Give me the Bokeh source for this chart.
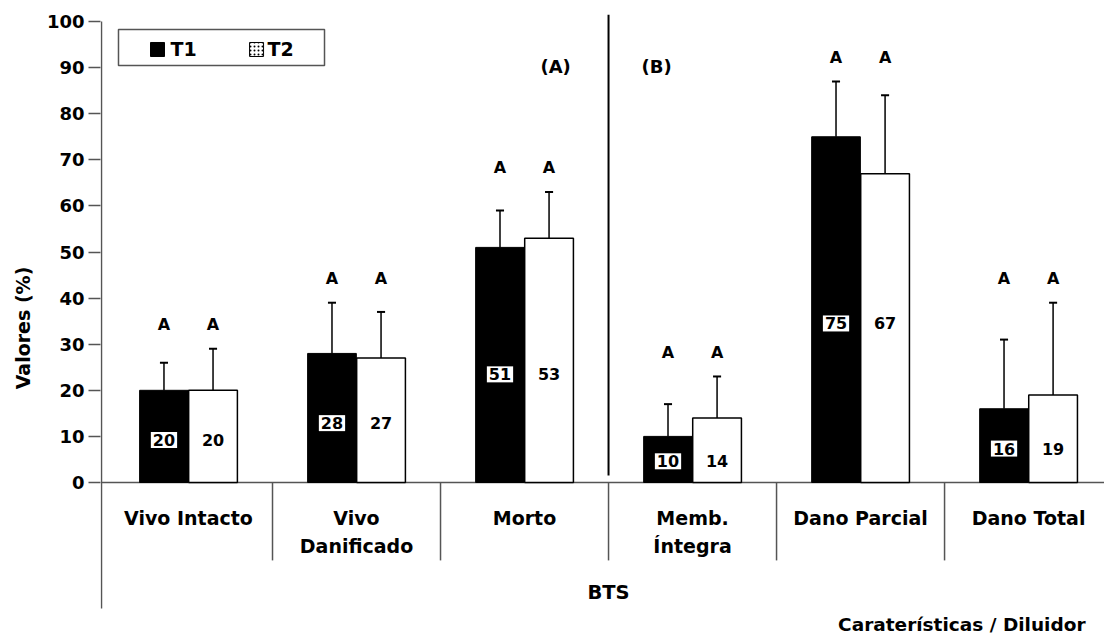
from bokeh.plotting import figure
from bokeh.models import Range1d, FixedTicker
from bokeh.core.properties import value
from bokeh.embed import file_html
from bokeh.resources import INLINE

# ---------------- data ----------------
categories = ["Vivo Intacto", "Vivo\nDanificado", "Morto", "Memb.\nÍntegra", "Dano Parcial", "Dano Total"]
series_names = ["T1", "T2"]
t1_values = [20, 28, 51, 10, 75, 16]
t2_values = [20, 27, 53, 14, 67, 19]
t1_err = [6, 11, 8, 7, 12, 15]
t2_err = [9, 10, 10, 9, 17, 20]
letters_t1 = ["A", "A", "A", "A", "A", "A"]
letters_t2 = ["A", "A", "A", "A", "A", "A"]
y_ticks = [0, 10, 20, 30, 40, 50, 60, 70, 80, 90, 100]
group_label = "BTS"
panel_labels = ["(A)", "(B)"]
y_title = "Valores (%)"
x_title = "Caraterísticas / Diluidor"

FONT = value("DejaVu Sans")
n = len(categories)

X0, X1 = -0.0238, 5.952
Y0, Y1 = -34.49, 101.52

# ---------------- figure ----------------
p = figure(width=1104, height=641, output_backend="svg", toolbar_location=None,
           x_range=Range1d(X0, X1), y_range=Range1d(Y0, Y1),
           min_border_left=100, min_border_top=14, min_border_bottom=0, min_border_right=0,
           title=None)
p.outline_line_color = None
p.xgrid.visible = False
p.ygrid.visible = False
p.xaxis.visible = False
p.background_fill_color = "white"
p.border_fill_color = "white"

ax = p.yaxis[0]
ax.ticker = FixedTicker(ticks=y_ticks)
ax.axis_line_color = None
ax.major_tick_line_color = "#555555"
ax.major_tick_line_width = 1.5
ax.major_tick_out = 12
ax.major_tick_in = 0
ax.minor_tick_line_color = None
ax.major_label_text_font = "DejaVu Sans"
ax.major_label_text_font_style = "bold"
ax.major_label_text_font_size = "18px"
ax.major_label_text_color = "black"
ax.major_label_standoff = 4
ax.axis_label = y_title
ax.axis_label_text_font = "DejaVu Sans"
ax.axis_label_text_font_style = "bold"
ax.axis_label_text_font_size = "19px"
ax.axis_label_text_color = "black"
ax.axis_label_standoff = 10

# axis lines (manual, so that they stop where the reference stops)
x_axis_left = -0.0179
p.segment(x0=[x_axis_left], y0=[-27.33], x1=[x_axis_left], y1=[100], line_color="#555555", line_width=1.5)
p.segment(x0=[x_axis_left], y0=[0], x1=[X1], y1=[0], line_color="#555555", line_width=1.5)
# category separators
seps = list(range(1, n))
p.segment(x0=seps, y0=[0] * len(seps), x1=seps, y1=[-16.9] * len(seps), line_color="#555555", line_width=1.5)
# panel divider
p.segment(x0=[3], y0=[1.5], x1=[3], y1=[Y1], line_color="black", line_width=2)

# ---------------- bars ----------------
bw = 0.29
off = 0.146
xs1 = [i + 0.5 - off for i in range(n)]
xs2 = [i + 0.5 + off for i in range(n)]
p.vbar(x=xs1, top=t1_values, bottom=0, width=bw, fill_color="black", line_color="black", line_width=1)
p.vbar(x=xs2, top=t2_values, bottom=0, width=bw, fill_color="white", line_color="black", line_width=1.5)

# error bars (upper only, with caps)
cap = 0.024
up1 = [v + e for v, e in zip(t1_values, t1_err)]
up2 = [v + e for v, e in zip(t2_values, t2_err)]
p.segment(x0=xs1, y0=t1_values, x1=xs1, y1=up1, line_color="black", line_width=1.5)
p.segment(x0=xs2, y0=t2_values, x1=xs2, y1=up2, line_color="black", line_width=1.5)
p.segment(x0=[x - cap for x in xs1], y0=up1, x1=[x + cap for x in xs1], y1=up1, line_color="black", line_width=2)
p.segment(x0=[x - cap for x in xs2], y0=up2, x1=[x + cap for x in xs2], y1=up2, line_color="black", line_width=2)

# significance letters
let_y = [max(a, b) + 5.3 for a, b in zip(up1, up2)]
p.text(x=xs1, y=let_y, text=letters_t1, text_font=FONT, text_font_style="bold", text_font_size="16px",
       text_align="center", text_baseline="middle", text_color="black")
p.text(x=xs2, y=let_y, text=letters_t2, text_font=FONT, text_font_style="bold", text_font_size="16px",
       text_align="center", text_baseline="middle", text_color="black")

# value labels
lab_y = [v * 0.46 for v in t1_values]
p.text(x=xs1, y=lab_y, text=[str(v) for v in t1_values], text_font=FONT, text_font_style="bold",
       text_font_size="16px", text_align="center", text_baseline="middle", text_color="black",
       background_fill_color="white", padding=2)
p.text(x=xs2, y=lab_y, text=[str(v) for v in t2_values], text_font=FONT, text_font_style="bold",
       text_font_size="16px", text_align="center", text_baseline="middle", text_color="black")

# ---------------- category labels ----------------
line1 = [c.split("\n")[0] for c in categories]
line2 = [c.split("\n")[1] if "\n" in c else "" for c in categories]
cx = [i + 0.5 for i in range(n)]
p.text(x=cx, y=[-7.6] * n, text=line1, text_font=FONT, text_font_style="bold", text_font_size="19px",
       text_align="center", text_baseline="middle", text_color="black")
p.text(x=cx, y=[-13.7] * n, text=line2, text_font=FONT, text_font_style="bold", text_font_size="19px",
       text_align="center", text_baseline="middle", text_color="black")
p.text(x=[3], y=[-23.9], text=[group_label], text_font=FONT, text_font_style="bold", text_font_size="19.5px",
       text_align="center", text_baseline="middle", text_color="black")
p.text(x=[5.839], y=[-30.8], text=[x_title], text_font=FONT, text_font_style="bold", text_font_size="18.5px",
       text_align="right", text_baseline="middle", text_color="black")

# panel labels
p.text(x=[2.685, 3.286], y=[90.2, 90.2], text=panel_labels, text_font=FONT, text_font_style="bold",
       text_font_size="18px", text_align="center", text_baseline="middle", text_color="black")

# ---------------- legend (manual box) ----------------
p.quad(left=[0.0833], right=[1.3095], top=[98.26], bottom=[90.46], fill_color="white",
       line_color="#555555", line_width=1.5)
p.rect(x=[0.3155], y=[93.93], width=14, height=14, width_units="screen", height_units="screen",
       fill_color="black", line_color="black")
p.rect(x=[0.905], y=[93.93], width=14, height=14, width_units="screen", height_units="screen",
       fill_color="white", line_color="black", hatch_pattern="dot", hatch_color="black", hatch_scale=4)
p.text(x=[0.393, 0.970], y=[93.93, 93.93], text=series_names, text_font=FONT, text_font_style="bold",
       text_font_size="19px", text_align="left", text_baseline="middle", text_color="black")

open("out.html", "w").write(file_html(p, INLINE))
